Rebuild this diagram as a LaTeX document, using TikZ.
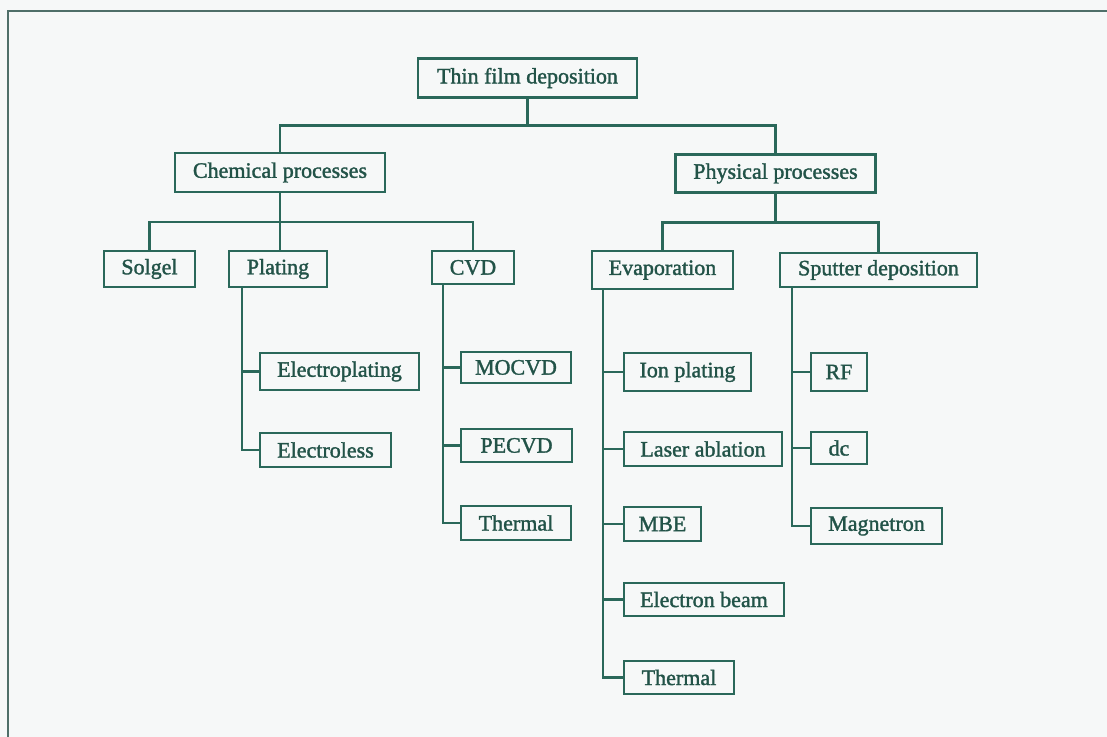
\documentclass[tikz,border=0pt]{standalone}
\usepackage{fontspec}
\setmainfont{Liberation Serif}
\newfontfamily\boxfont[FakeBold=1.5]{Liberation Serif}
\usetikzlibrary{
	positioning,
	backgrounds
}
\definecolor{inkcolor}{HTML}{2A685A}
\definecolor{framecolor}{HTML}{4F6F69}
\definecolor{papercolor}{HTML}{F6F8F8}
\tikzset{
	procbox/.style={
		draw=inkcolor,
		line width=1.3pt,
		text=inkcolor!80!black,
		shape=rectangle,
		minimum height=18pt,
		inner sep=1pt,
		outer sep=0pt,
		align=center,
		font=\boxfont\fontsize{11}{13}\selectfont
	},
	leafbox/.style={
		procbox,
		minimum height=17pt
	},
	link/.style={
		draw=inkcolor,
		line width=1.2pt
	}
}

\begin{document}
\begin{tikzpicture}[x=1pt, y=1pt, node distance=20pt and 15.5pt]

	% Paper and frame
	\useasboundingbox (0,0) rectangle (553.5,-368.5);
	\fill[papercolor] (0,0) rectangle (553.5,-368.5);
	\draw[framecolor, line width=1.2pt] (4,-368.5) -- (4,-5.5) -- (553.5,-5.5);

	% Root
	\node[procbox, minimum width=109.5pt, minimum height=19.5pt] (root) at (263.75,-39) {Thin film deposition};

	% Row 1
	\node[procbox, minimum width=105pt, minimum height=19.5pt] (chem) at (140,-86.25) {Chemical processes};
	\node[procbox, minimum width=100pt, minimum height=19pt] (phys) at (387.75,-86.75) {Physical processes};

	% Row 2
	\node[procbox, minimum width=45.5pt] (solgel) at (74.75,-134.5) {Solgel};
	\node[procbox, minimum width=49pt] (plating) at (139,-134.5) {Plating};
	\node[procbox, minimum width=41pt, minimum height=16.5pt] (cvd) at (236.5,-133.75) {CVD};
	\node[procbox, minimum width=70.5pt, minimum height=19pt] (evap) at (331.25,-135) {Evaporation};
	\node[procbox, minimum width=98.5pt, minimum height=17pt] (sputter) at (439.25,-135) {Sputter deposition};

	% Plating branch
	\node[leafbox, minimum width=79.5pt, minimum height=18.5pt, below right=33pt and 15.5pt of plating.south west] (elplat) {Electroplating};
	\node[leafbox, minimum width=65.5pt, below=21.5pt of elplat.south west, anchor=north west] (elless) {Electroless};

	% CVD branch
	\node[leafbox, minimum width=55pt, minimum height=15.5pt, below right=34pt and 14.5pt of cvd.south west] (mocvd) {MOCVD};
	\node[leafbox, minimum width=55.5pt, minimum height=16.5pt, below=23pt of mocvd.south west, anchor=north west] (pecvd) {PECVD};
	\node[leafbox, minimum width=55pt, below=22pt of pecvd.south west, anchor=north west] (cvdtherm) {Thermal};

	% Evaporation branch
	\node[leafbox, minimum width=63.5pt, minimum height=19pt, below right=32pt and 16pt of evap.south west] (ionpl) {Ion plating};
	\node[leafbox, minimum width=79pt, below=20.5pt of ionpl.south west, anchor=north west] (laser) {Laser ablation};
	\node[leafbox, minimum width=38.5pt, below=20.5pt of laser.south west, anchor=north west] (mbe) {MBE};
	\node[leafbox, minimum width=80pt, minimum height=16.5pt, below=21pt of mbe.south west, anchor=north west] (ebeam) {Electron beam};
	\node[leafbox, minimum width=55pt, minimum height=16.5pt, below=22.5pt of ebeam.south west, anchor=north west] (evtherm) {Thermal};

	% Sputter branch
	\node[leafbox, minimum width=28pt, minimum height=19pt, below right=33pt and 15.5pt of sputter.south west] (rf) {RF};
	\node[leafbox, minimum width=28pt, minimum height=16pt, below=20.5pt of rf.south west, anchor=north west] (dc) {dc};
	\node[leafbox, minimum width=65.5pt, minimum height=18pt, below=22pt of dc.south west, anchor=north west] (magnet) {Magnetron};

	% Tree connectors
	\draw[link] (root.south) -- ++(0,-14) coordinate (rootbar);
	\draw[link] (chem.north) |- (rootbar) -| (phys.north);

	\draw[link] (chem.south) -- ++(0,-15) coordinate (chembar);
	\draw[link] (solgel.north) |- (chembar) -| (cvd.north);
	\draw[link] (chembar) -- (chembar |- plating.north);

	\draw[link] (phys.south) -- ++(0,-15) coordinate (physbar);
	\draw[link] (evap.north) |- (physbar) -| (sputter.north);

	% Side stems
	\coordinate (platstem) at ([xshift=-9pt]elplat.west |- plating.south);
	\coordinate (cvdstem) at ([xshift=-9pt]mocvd.west |- cvd.south);
	\coordinate (evapstem) at ([xshift=-10.5pt]ionpl.west |- evap.south);
	\coordinate (sputstem) at ([xshift=-9.5pt]rf.west |- sputter.south);

	\draw[link] (platstem) |- (elless.west);
	\draw[link] (platstem |- elplat.west) -- (elplat.west);

	\draw[link] (cvdstem) |- (cvdtherm.west);
	\draw[link] (cvdstem |- mocvd.west) -- (mocvd.west);
	\draw[link] (cvdstem |- pecvd.west) -- (pecvd.west);

	\draw[link] (evapstem) |- (evtherm.west);
	\draw[link] (evapstem |- ionpl.west) -- (ionpl.west);
	\draw[link] (evapstem |- laser.west) -- (laser.west);
	\draw[link] (evapstem |- mbe.west) -- (mbe.west);
	\draw[link] (evapstem |- ebeam.west) -- (ebeam.west);

	\draw[link] (sputstem) |- (magnet.west);
	\draw[link] (sputstem |- rf.west) -- (rf.west);
	\draw[link] (sputstem |- dc.west) -- (dc.west);

\end{tikzpicture}
\end{document}
